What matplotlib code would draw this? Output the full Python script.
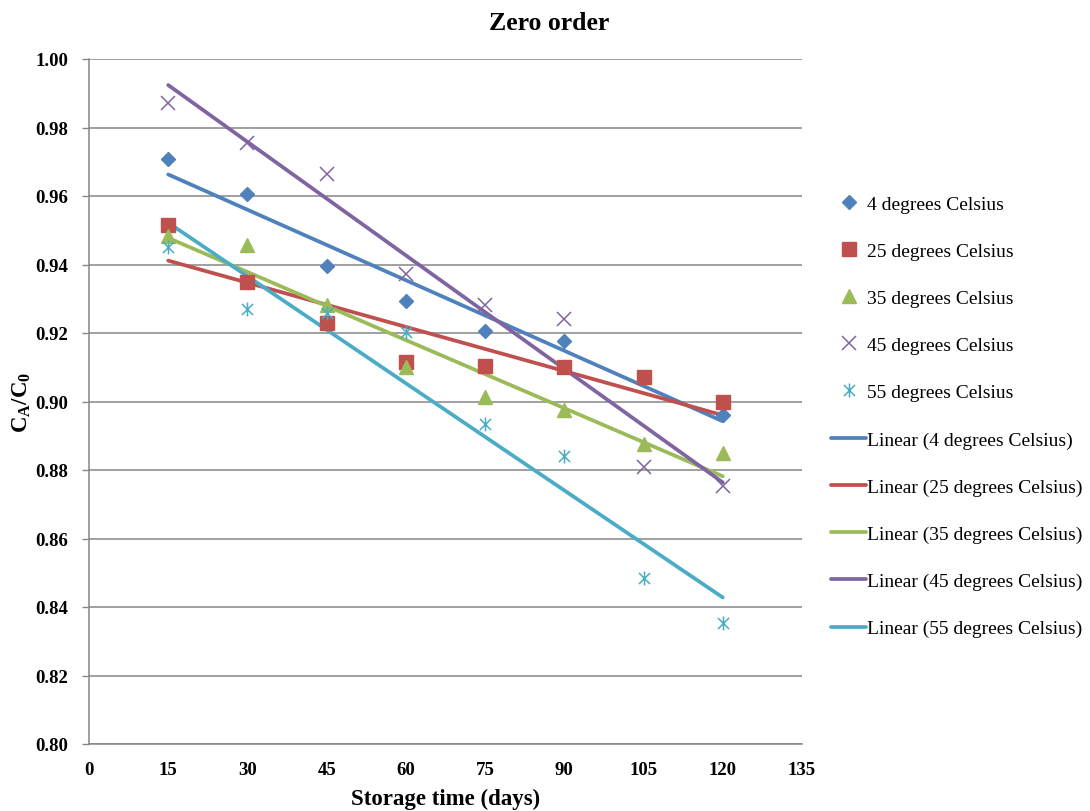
import numpy as np
import matplotlib
matplotlib.use("Agg")
import matplotlib.pyplot as plt
from matplotlib.path import Path

plt.rcParams['font.family'] = ['Liberation Serif', 'DejaVu Serif']
plt.rcParams['mathtext.fontset'] = 'custom'
plt.rcParams['mathtext.rm'] = 'Liberation Serif:bold'
plt.rcParams['mathtext.it'] = 'Liberation Serif:bold'
plt.rcParams['mathtext.bf'] = 'Liberation Serif:bold'

days = [15, 30, 45, 60, 75, 90, 105, 120]
series_labels = ["4 degrees Celsius", "25 degrees Celsius", "35 degrees Celsius",
                 "45 degrees Celsius", "55 degrees Celsius"]
t4 = [0.9708, 0.9606, 0.9397, 0.9294, 0.9206, 0.9178, 0.9070, 0.8962]
t25 = [0.9516, 0.9350, 0.9230, 0.9115, 0.9104, 0.9100, 0.9072, 0.8998]
t35 = [0.9484, 0.9457, 0.9282, 0.9100, 0.9013, 0.8975, 0.8876, 0.8850]
t45 = [0.9872, 0.9755, 0.9665, 0.9372, 0.9283, 0.9240, 0.8810, 0.8753]
t55 = [0.9452, 0.9270, 0.9258, 0.9203, 0.8935, 0.8842, 0.8486, 0.8353]
xticks = [0, 15, 30, 45, 60, 75, 90, 105, 120, 135]
yticks = [0.80, 0.82, 0.84, 0.86, 0.88, 0.90, 0.92, 0.94, 0.96, 0.98, 1.00]

colors = ['#4F81BD', '#C0504D', '#9BBB59', '#8064A2', '#4BACC6']

star = Path([(0, -1), (0, 1), (-0.8, -0.8), (0.8, 0.8), (-0.8, 0.8), (0.8, -0.8)],
            [Path.MOVETO, Path.LINETO, Path.MOVETO, Path.LINETO, Path.MOVETO, Path.LINETO])
markers = [('D', 7.5, 'full'), ('s', 10.5, 'full'), ('^', 10, 'full'), ('x', 10, 'line'), (star, 10, 'line')]

fig = plt.figure(figsize=(10.9, 8.12), dpi=100)
ax = fig.add_axes([89/1090, 1-745/812, (802-89)/1090, (745-60)/812])

data = [t4, t25, t35, t45, t55]
x = np.array(days, dtype=float)
marker_handles = []
line_handles = []
for vals, c, (m, ms, kind), lab in zip(data, colors, markers, series_labels):
    if kind == 'full':
        h, = ax.plot(days, vals, linestyle='none', marker=m, markersize=ms,
                     color=c, markeredgecolor=c, label=lab, zorder=3)
    else:
        h, = ax.plot(days, vals, linestyle='none', marker=m, markersize=ms,
                     color=c, markeredgewidth=1.1, label=lab, zorder=3)
    marker_handles.append(h)

for vals, c, lab in zip(data, colors, series_labels):
    k, b = np.polyfit(x, np.array(vals), 1)
    xs = np.array([x.min(), x.max()])
    h, = ax.plot(xs, k*xs + b, color=c, linewidth=2.7, label=f"Linear ({lab})", zorder=2,
                 solid_capstyle='round')
    line_handles.append(h)

ax.set_xlim(0, 135)
ax.set_ylim(0.80, 1.00)
ax.set_xticks(xticks)
ax.set_yticks(yticks)
ax.set_xticklabels([str(v) for v in xticks], fontsize=13.5, fontweight='bold')
ax.set_yticklabels([f"{v:.2f}" for v in yticks], fontsize=13.5, fontweight='bold')
ax.tick_params(axis='x', length=0, pad=12)
ax.tick_params(axis='y', length=5, width=1, color='#868686', direction='out', pad=10)
ax.grid(axis='y', color='#868686', linewidth=1.1)
ax.set_axisbelow(True)
for s in ['top', 'right']:
    ax.spines[s].set_visible(False)
for s in ['left', 'bottom']:
    ax.spines[s].set_color('#868686')
    ax.spines[s].set_linewidth(1.1)

fig.text(549/1090, 1-24/812, "Zero order", fontsize=18.5, fontweight='bold',
         ha='center', va='center')
ax.set_xlabel("Storage time (days)", fontsize=16.5, fontweight='bold', labelpad=7)
ax.set_ylabel(r"C$_\mathrm{A}$/C$_\mathrm{0}$", fontsize=16.5, fontweight='bold', labelpad=2)

fig.legend(handles=marker_handles + line_handles,
           labels=[h.get_label() for h in marker_handles + line_handles],
           loc='upper left', bbox_to_anchor=(831/1090, 1-196/812), frameon=False,
           fontsize=14, labelspacing=1.52, handlelength=1.8, handletextpad=0.05,
           borderpad=0, borderaxespad=0)

fig.savefig("out.png", dpi=100)
